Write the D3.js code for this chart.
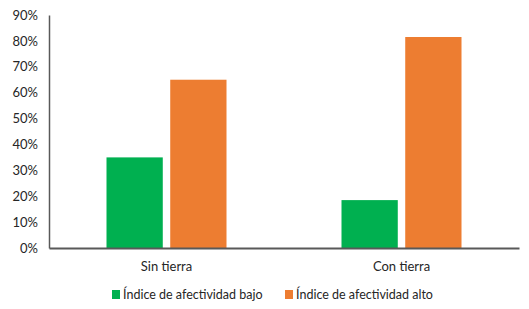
<!DOCTYPE html>
<html><head><meta charset="utf-8">
<script src="https://cdn.jsdelivr.net/npm/d3@7"></script>
<style>body{margin:0;background:#fff}svg text{font-family:Lato,"Open Sans",sans-serif;fill:#262626}</style>
</head><body><svg id="c" width="529" height="309"></svg>
<script>
const categories = ["Sin tierra", "Con tierra"];
const seriesNames = ["Índice de afectividad bajo", "Índice de afectividad alto"];
const bajo = [0.35, 0.185];
const alto = [0.65, 0.815];
const yTicks = [0,0.1,0.2,0.3,0.4,0.5,0.6,0.7,0.8,0.9];
const colors = ["#00B050", "#ED7D31"];

(function(){
const svg = d3.select("#c");
const mLeft = 49, mRight = 519, mTop = 15, mBottom = 248;
const x = d3.scaleBand().domain(categories).range([mLeft, mRight]);
const y = d3.scaleLinear().domain([0, 0.9]).range([mBottom, mTop]);
const inner = d3.scaleBand().domain([0,1]).range([0,120]).paddingInner(0.117);

const series = [bajo, alto];
series.forEach((vals, si) => {
  svg.append("g").selectAll("rect").data(categories).join("rect")
    .attr("x", (c) => x(c) + x.bandwidth()/2 - 60 + inner(si))
    .attr("width", inner.bandwidth())
    .attr("y", (c, i) => y(vals[i]))
    .attr("height", (c, i) => mBottom - y(vals[i]))
    .attr("fill", colors[si]);
});

const yAxis = d3.axisLeft(y).tickValues(yTicks).tickFormat(d3.format(".0%")).tickSize(0).tickPadding(11);
const gy = svg.append("g").attr("transform", `translate(${mLeft},0)`).call(yAxis);
gy.select(".domain").attr("stroke", "#595959").attr("stroke-width", 1.5);
gy.selectAll("text").style("font-size", "13px").attr("fill", "#262626");

const xAxis = d3.axisBottom(x).tickSize(0).tickPadding(14);
const gx = svg.append("g").attr("transform", `translate(0,${mBottom})`).call(xAxis);
gx.select(".domain").attr("stroke", "#595959").attr("stroke-width", 2);
gx.selectAll("text").style("font-size", "13px").attr("fill", "#262626");

const legendX = [112, 285];
seriesNames.forEach((n, i) => {
  const g = svg.append("g").attr("transform", `translate(${legendX[i]},295)`);
  g.append("rect").attr("x", 0).attr("y", -5).attr("width", 8).attr("height", 9).attr("fill", colors[i]);
  g.append("text").attr("x", 11).attr("y", 0).attr("dy", "0.35em").style("font-size", "12.5px").text(n);
});
})();
</script></body></html>
